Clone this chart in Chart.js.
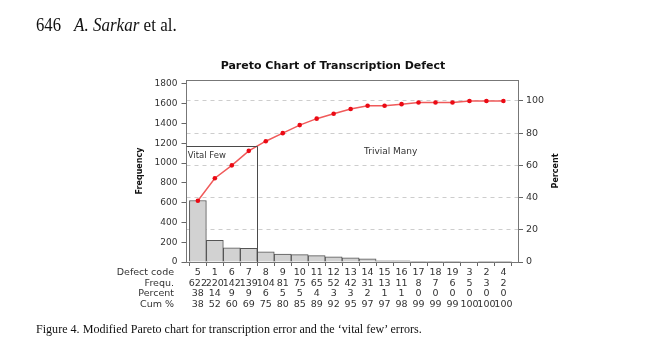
<!DOCTYPE html>
<html><head><meta charset="utf-8">
<script src="https://cdn.jsdelivr.net/npm/chart.js@4.4.0/dist/chart.umd.min.js"></script>
<style>
html,body{margin:0;padding:0;background:#fff;}
#wrap{position:relative;width:649px;height:356px;overflow:hidden;background:#fff;}
#c{position:absolute;left:0;top:0;}
.t{position:absolute;font-family:"Liberation Serif","Times New Roman",serif;color:#111;white-space:nowrap;transform-origin:0 0;}
</style></head><body>
<div id="wrap">
<canvas id="c" width="649" height="356"></canvas>
<div class="t" data-w="25" style="left:36px;top:16px;font-size:18px;line-height:18px;">646</div>
<div class="t" data-w="102.7" style="left:74px;top:16px;font-size:18px;line-height:18px;"><i>A. Sarkar</i> et al.</div>
<div class="t" data-w="385.7" style="left:36px;top:322px;font-size:13px;line-height:13px;">Figure 4. Modified Pareto chart for transcription error and the ‘vital few’ errors.</div>
</div>
<script>
// ---- data ----
const defectCodes = ['5','1','6','7','8','9','10','11','12','13','14','15','16','17','18','19','3','2','4'];
const frequencies = [622,220,142,139,104,81,75,65,52,42,31,13,11,8,7,6,5,3,2];
const percents    = [38,14,9,9,6,5,5,4,3,3,2,1,1,0,0,0,0,0,0];
const cumPercents = [38,52,60,69,75,80,85,89,92,95,97,97,98,99,99,99,100,100,100];
const rowLabels   = ['Defect code','Frequ.','Percent','Cum %'];
const freqTicks   = [0,200,400,600,800,1000,1200,1400,1600,1800];
const pctTicks    = [0,20,40,60,80,100];
const chartTitle  = 'Pareto Chart of Transcription Defect';
const vitalFewCut = 3.5;    // boundary between category "7" and "8"
const vitalFewLevel = 72;   // cumulative percent where the boundary meets the curve

// fit HTML text widths to the scan
document.querySelectorAll('.t').forEach(el=>{
  const w = el.getBoundingClientRect().width;
  el.style.transform = 'scaleX(' + (parseFloat(el.dataset.w)/w) + ')';
});

const FONT = '"DejaVu Sans", Verdana, sans-serif';
const FREQ_MAX = 1840;
const PCT_MAX = 113;

const overlay = {
  id: 'overlay',
  afterDatasetsDraw(chart) {
    const {ctx, chartArea: a, scales: {x, y, y1}} = chart;
    ctx.save();
    ctx.lineWidth = 1;
    ctx.strokeStyle = '#777';
    const top = Math.round(a.top) + 0.5;
    ctx.beginPath(); ctx.moveTo(a.left, top); ctx.lineTo(a.right, top); ctx.stroke();
    // vital few box
    const vx = Math.round(x.getPixelForValue(vitalFewCut)) + 0.5;
    const vy = Math.round(y1.getPixelForValue(vitalFewLevel)) + 0.5;
    ctx.strokeStyle = '#4a4a4a';
    ctx.beginPath(); ctx.moveTo(a.left, vy); ctx.lineTo(vx, vy); ctx.lineTo(vx, a.bottom); ctx.stroke();
    ctx.fillStyle = '#333';
    ctx.textBaseline = 'middle';
    ctx.font = '8.5px ' + FONT;
    ctx.textAlign = 'left';
    ctx.fillText('Vital Few', x.getPixelForValue(-0.6), y.getPixelForValue(1072));
    ctx.font = '9px ' + FONT;
    ctx.textAlign = 'center';
    ctx.fillText('Trivial Many', x.getPixelForValue(11.36), y.getPixelForValue(1120));
    ctx.restore();
  },
  afterDraw(chart) {
    const {ctx, chartArea: a, scales: {x}} = chart;
    ctx.save();
    ctx.fillStyle = '#111';
    ctx.textBaseline = 'middle';
    ctx.textAlign = 'center';
    ctx.font = 'bold 11px ' + FONT;
    ctx.fillText(chartTitle, 333, 66);
    // row labels of the table
    ctx.fillStyle = '#333';
    ctx.font = '9.5px ' + FONT;
    ctx.textAlign = 'right';
    const lh = 10.5;
    const y0 = x.top + 4 + 1.5 + lh / 2;
    rowLabels.forEach((t, i) => ctx.fillText(t, 174, y0 + i * lh));
    // right axis title
    ctx.fillStyle = '#111';
    ctx.font = 'bold 8px ' + FONT;
    ctx.translate(556, (a.top + a.bottom) / 2);
    ctx.rotate(-Math.PI / 2);
    ctx.textAlign = 'center';
    ctx.fillText('Percent', 0, 0);
    ctx.restore();
  }
};

new Chart(document.getElementById('c'), {
  data: {
    datasets: [
      {
        type: 'line',
        yAxisID: 'y1',
        data: cumPercents.map((v, i) => ({x: i, y: v})),
        borderColor: 'rgb(240,90,90)',
        borderWidth: 1.5,
        pointBackgroundColor: 'rgb(235,10,20)',
        pointBorderColor: 'rgb(235,10,20)',
        pointRadius: 2.3,
        pointBorderWidth: 0,
        tension: 0,
        order: 0
      },
      {
        type: 'bar',
        yAxisID: 'y',
        data: frequencies.map((v, i) => ({x: i, y: v})),
        backgroundColor: 'rgb(210,210,210)',
        borderColor: 'rgb(85,85,85)',
        borderWidth: 1,
        barPercentage: 1,
        categoryPercentage: 1,
        order: 1
      }
    ]
  },
  options: {
    responsive: false,
    animation: false,
    devicePixelRatio: 1,
    layout: {padding: {left: 135.2, right: 91, top: 80, bottom: 44}},
    plugins: {legend: {display: false}, tooltip: {enabled: false}, title: {display: false}},
    scales: {
      x: {
        type: 'linear', min: -0.67, max: 18.86, offset: false,
        afterBuildTicks: s => { s.ticks = defectCodes.map((_, i) => ({value: i})); },
        afterFit: s => { s.height = 50; },
        grid: {display: true, drawOnChartArea: false, drawTicks: true, tickLength: 4, tickColor: '#666', color: '#666'},
        border: {display: true, color: '#777', width: 1},
        ticks: {
          autoSkip: false, maxRotation: 0, minRotation: 0, padding: 1.5, color: '#333',
          font: {family: FONT, size: 9.5, lineHeight: '10.5px'},
          callback: v => [defectCodes[v], String(frequencies[v]), String(percents[v]), String(cumPercents[v])]
        }
      },
      y: {
        position: 'left', min: 0, max: FREQ_MAX,
        afterBuildTicks: s => { s.ticks = freqTicks.map(v => ({value: v})); },
        afterFit: s => { s.width = 51.3; },
        grid: {drawOnChartArea: false, tickLength: 5, tickColor: '#666'},
        border: {display: true, color: '#777', width: 1},
        ticks: {padding: 4, color: '#333', font: {family: FONT, size: 9}, callback: v => String(v)},
        title: {display: true, text: 'Frequency', color: '#111', padding: 0, font: {family: FONT, size: 8, weight: 'bold'}}
      },
      y1: {
        position: 'right', min: 0, max: PCT_MAX,
        afterBuildTicks: s => { s.ticks = pctTicks.map(v => ({value: v})); },
        afterFit: s => { s.width = 40; },
        grid: {drawOnChartArea: true, tickLength: 5, tickColor: '#666',
               color: c => (c.tick && c.tick.value === 0) ? 'rgba(0,0,0,0)' : 'rgb(205,205,205)'},
        border: {display: true, color: '#777', width: 1, dash: [4, 4]},
        ticks: {padding: 3, color: '#333', font: {family: FONT, size: 9.5}, callback: v => String(v)}
      }
    }
  },
  plugins: [overlay]
});
</script>
</body></html>
